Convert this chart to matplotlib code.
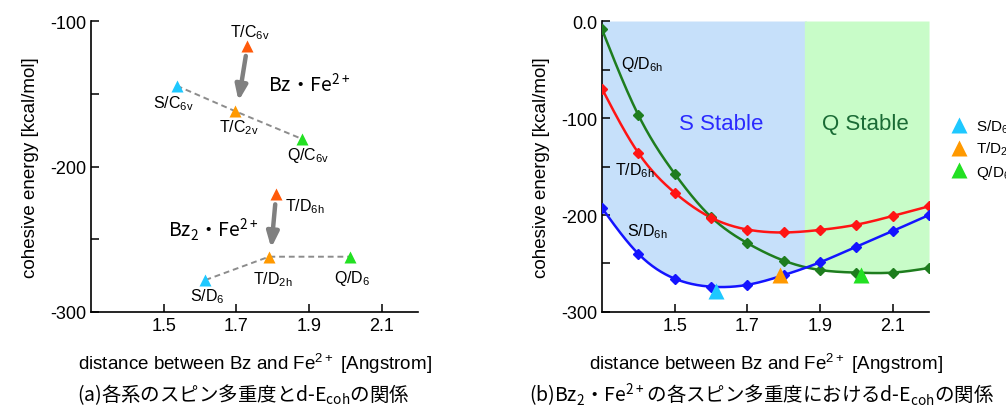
import numpy as np
import matplotlib
matplotlib.use("Agg")
import matplotlib.pyplot as plt

plt.rcParams['font.family'] = ['Liberation Sans', 'Noto Sans CJK JP', 'DejaVu Sans']
plt.rcParams['mathtext.default'] = 'regular'

# (a) optimized structures: distance [A], cohesive energy [kcal/mol]
bz_labels = ["S/C$_{6v}$", "T/C$_{2v}$", "Q/C$_{6v}$", "T/C$_{6v}$"]
bz_dist = [1.536, 1.697, 1.880, 1.730]
bz_energy = [-144.5, -162.0, -181.0, -117.0]

bz2_labels = ["S/D$_6$", "T/D$_{2h}$", "Q/D$_6$", "T/D$_{6h}$"]
bz2_dist = [1.615, 1.790, 2.012, 1.810]
bz2_energy = [-278.0, -262.0, -262.0, -219.0]

# (b) scans of Bz2-Fe2+ (D6h)
scan_dist = [1.3, 1.4, 1.5, 1.6, 1.7, 1.8, 1.9, 2.0, 2.1, 2.2]
s_d6h = [-192.8, -240.0, -265.6, -273.9, -272.0, -262.0, -248.8, -232.6, -216.5, -200.0]
t_d6h = [-69.8, -136.0, -177.0, -202.7, -215.0, -218.0, -215.4, -210.0, -201.0, -191.0]
q_d6h = [-8.6, -96.9, -157.4, -202.0, -229.0, -247.0, -256.7, -259.4, -259.4, -254.6]
q_stable_from = 1.86

c_s = '#1ec8ff'
c_t = '#ff9900'
c_t6 = '#ff5a0a'
c_q = '#22e022'
marker_colors = [c_s, c_t, c_q, c_t6]


def spline(x, y, n=300):
    # natural cubic spline, only used to draw a smooth line through the points
    x = np.asarray(x, float)
    y = np.asarray(y, float)
    m = len(x)
    h = np.diff(x)
    A = np.zeros((m, m))
    b = np.zeros(m)
    A[0, 0] = A[-1, -1] = 1
    for i in range(1, m - 1):
        A[i, i - 1] = h[i - 1]
        A[i, i] = 2 * (h[i - 1] + h[i])
        A[i, i + 1] = h[i]
        b[i] = 3 * ((y[i + 1] - y[i]) / h[i] - (y[i] - y[i - 1]) / h[i - 1])
    c = np.linalg.solve(A, b)
    xs = np.linspace(x[0], x[-1], n)
    idx = np.clip(np.searchsorted(x, xs) - 1, 0, m - 2)
    t = xs - x[idx]
    hi = h[idx]
    bi = (y[idx + 1] - y[idx]) / hi - hi * (2 * c[idx] + c[idx + 1]) / 3
    di = (c[idx + 1] - c[idx]) / (3 * hi)
    return xs, y[idx] + bi * t + c[idx] * t ** 2 + di * t ** 3


def style_axes(ax):
    for s in ['top', 'right']:
        ax.spines[s].set_visible(False)
    for s in ['left', 'bottom']:
        ax.spines[s].set_linewidth(1.2)
    ax.tick_params(which='both', direction='in', length=6, width=1.1, labelsize=13)
    ax.set_xlim(1.3, 2.2)
    ax.set_ylim(-300, None)
    ax.set_xticks([1.5, 1.7, 1.9, 2.1])
    ax.set_xticklabels(['1.5', '1.7', '1.9', '2.1'])
    ax.set_yticks([-250, -150, -50], minor=True)
    ax.set_xlabel('distance between Bz and Fe$^{2+}$ [Angstrom]', fontsize=13.5, labelpad=12)
    ax.set_ylabel('cohesive energy [kcal/mol]', fontsize=13.5, labelpad=8)


fig = plt.figure(figsize=(10.06, 4.10), dpi=100)
ax1 = fig.add_axes([0.0905, 0.2366, 0.325, 0.7097])
ax2 = fig.add_axes([0.5984, 0.2366, 0.3251, 0.7097])

# ---- (a)
style_axes(ax1)
ax1.set_ylim(-300, -100)
ax1.set_yticks([-300, -200, -100])
ax1.set_yticklabels(['-300', '-200', '-100'])

for d, e in [(bz_dist, bz_energy), (bz2_dist, bz2_energy)]:
    ax1.plot(d[:3], e[:3], ls='--', color='#8c8c8c', lw=1.4, dashes=(3, 2), zorder=2)
    for i in range(4):
        ax1.plot(d[i], e[i], '^', color=marker_colors[i], ms=9, mec='none', zorder=3)

label_pos_bz = [(1.527, -156), (1.706, -172.5), (1.897, -192), (1.738, -107.5)]
label_pos_bz2 = [(1.62, -289), (1.80, -277), (2.02, -276), (1.889, -227)]
for labels, pos in [(bz_labels, label_pos_bz), (bz2_labels, label_pos_bz2)]:
    for lab, (x, y) in zip(labels, pos):
        ax1.text(x, y, lab, fontsize=11.5, ha='center', va='center')

arrow = dict(arrowstyle='-|>,head_width=0.35,head_length=0.9', lw=3.2,
             color='#808080', shrinkA=0, shrinkB=0)
ax1.annotate('', xy=(1.706, -155), xytext=(1.726, -124), arrowprops=arrow)
ax1.annotate('', xy=(1.796, -256), xytext=(1.807, -226), arrowprops=arrow)

ax1.text(1.90, -143, 'Bz・Fe$^{2+}$', fontsize=14, ha='center', va='center',
         family='Noto Sans CJK JP')
ax1.text(1.637, -243, 'Bz$_2$・Fe$^{2+}$', fontsize=14, ha='center', va='center',
         family='Noto Sans CJK JP')

# ---- (b)
style_axes(ax2)
ax2.set_ylim(-300, 0)
ax2.set_yticks([-300, -200, -100, 0])
ax2.set_yticklabels(['-300', '-200', '-100', '0.0'])

xs, ys = spline(scan_dist, s_d6h)
_, yt = spline(scan_dist, t_d6h)
_, yq = spline(scan_dist, q_d6h)
low = np.minimum(np.minimum(ys, yt), yq)
left = xs <= q_stable_from + 0.004
right = xs >= q_stable_from - 0.004
ax2.fill_between(xs, low, 0, where=left, color='#c6e0fa', lw=0, zorder=0)
ax2.fill_between(xs, low, 0, where=right, color='#c8fcc8', lw=0, zorder=0)

ax2.plot(xs, yq, color='#1e7d1e', lw=1.8, zorder=2)
ax2.plot(xs, yt, color='#ff1414', lw=1.8, zorder=2)
ax2.plot(xs, ys, color='#1414ff', lw=1.8, zorder=2)
ax2.plot(scan_dist, q_d6h, 'D', color='#1e7d1e', ms=5, zorder=3)
ax2.plot(scan_dist, t_d6h, 'D', color='#ff1414', ms=5, zorder=3)
ax2.plot(scan_dist, s_d6h, 'D', color='#1414ff', ms=5, zorder=3)

h = []
for i in range(3):
    p, = ax2.plot(bz2_dist[i], bz2_energy[i], '^', color=marker_colors[i], ms=11,
                  mec='none', zorder=4, clip_on=False)
    h.append(p)

ax2.text(1.353, -44, 'Q/D$_{6h}$', fontsize=11.5, ha='left', va='center')
ax2.text(1.335, -153, 'T/D$_{6h}$', fontsize=11.5, ha='left', va='center')
ax2.text(1.369, -216, 'S/D$_{6h}$', fontsize=11.5, ha='left', va='center')
ax2.text(1.628, -106, 'S Stable', fontsize=16, color='#2a2aff', ha='center', va='center')
ax2.text(2.025, -106, 'Q Stable', fontsize=16, color='#1a6b35', ha='center', va='center')

ax2.legend(h, bz2_labels, loc='upper left', bbox_to_anchor=(1.05, 0.69), frameon=False,
           fontsize=11, handlelength=1.0, handletextpad=0.6, labelspacing=0.35,
           borderaxespad=0)

fig.text(243 / 1006, 1 - 395 / 410, '(a)各系のスピン多重度とd-E$_{coh}$の関係',
         fontsize=14, ha='center', va='center', family='Noto Sans CJK JP')
fig.text(762 / 1006, 1 - 395 / 410, '(b)Bz$_2$・Fe$^{2+}$の各スピン多重度におけるd-E$_{coh}$の関係',
         fontsize=14, ha='center', va='center', family='Noto Sans CJK JP')

fig.savefig('out.png', dpi=100)
